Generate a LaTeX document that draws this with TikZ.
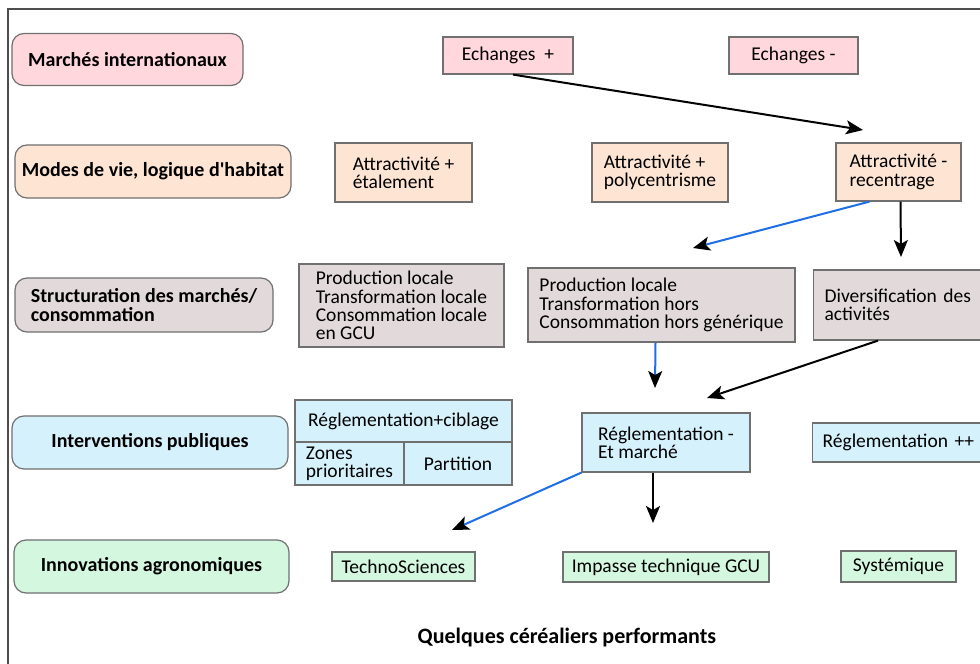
\documentclass[tikz,border=0pt]{standalone}
\usepackage{fontspec}
\setmainfont{Carlito}[Ligatures=TeXOff]
\usetikzlibrary{arrows.meta}
\definecolor{rosebox}{RGB}{255,215,220}
\definecolor{peachbox}{RGB}{253,228,211}
\definecolor{greybox}{RGB}{226,217,219}
\definecolor{bluebox}{RGB}{213,241,251}
\definecolor{greenbox}{RGB}{212,247,224}
\definecolor{edgegrey}{RGB}{112,112,112}
\definecolor{linkblue}{RGB}{30,110,230}
\begin{document}
\begin{tikzpicture}[x=1pt,y=-1pt,
    levelbox/.style={draw=edgegrey,line width=1.2pt,rounded corners=12pt,inner sep=0pt,
      font=\fontsize{20}{19}\selectfont\bfseries},
    statebox/.style={draw=edgegrey,line width=1.2pt,inner sep=0pt,align=left,
      font=\fontsize{19.5}{18.3}\selectfont},
    tip/.style={-{Stealth[length=17pt,width=14pt,inset=4pt,black]}},
    link/.style={tip,line width=2pt,black},
    bluelink/.style={tip,line width=2pt,linkblue}]
  \useasboundingbox (0,0) rectangle (980,664);
  \fill[white] (0,0) rectangle (980,664);
  \draw[edgegrey!70!black,line width=1.3pt] (8,664) -- (8,9) -- (980,9);
  % levels
  \node[levelbox,fill=rosebox,minimum width=231pt,minimum height=52pt] (m0) at (127.5,59.5) {Marchés internationaux};
  \node[levelbox,fill=peachbox,minimum width=276pt,minimum height=53pt] (m1) at (153,171.5) {Modes de vie, logique d'habitat};
  \node[levelbox,fill=greybox,minimum width=258pt,minimum height=54pt,align=left] (m2) at (144,305) {Structuration des marchés/\\consommation};
  \node[levelbox,fill=bluebox,minimum width=276pt,minimum height=53pt] (m3) at (150,442.5) {Interventions publiques};
  \node[levelbox,fill=greenbox,minimum width=275pt,minimum height=53pt] (m4) at (151.5,566.5) {Innovations agronomiques};
  % marches internationaux
  \node[statebox,fill=rosebox,minimum width=130pt,minimum height=37pt] (ech1) at (508,55.5) {Echanges\ \ +};
  \node[statebox,fill=rosebox,minimum width=129pt,minimum height=37pt] (ech2) at (793.5,55.5) {Echanges -};
  % modes de vie
  \node[statebox,fill=peachbox,minimum width=137pt,minimum height=59pt] (att1) at (403.5,172.5) {Attractivité +\\étalement};
  \node[statebox,fill=peachbox,minimum width=136pt,minimum height=59pt] (att2) at (660,172.5) {Attractivité +\\polycentrisme};
  \node[statebox,fill=peachbox,minimum width=125pt,minimum height=58pt] (att3) at (898.5,172) {Attractivité -\\recentrage};
  % structuration
  \node[statebox,fill=greybox,minimum width=205pt,minimum height=83pt] (str1) at (401.5,305.5) {Production locale\\Transformation locale\\Consommation locale\\en GCU};
  \node[statebox,fill=greybox,minimum width=267pt,minimum height=74pt] (str2) at (661.5,305) {Production locale\\Transformation hors\\Consommation hors générique};
  \node[statebox,fill=greybox,anchor=west,minimum height=70pt,inner xsep=11pt,text width=165pt] (str3) at (813,305) {Diversification des\\activités};
  % interventions
  \node[statebox,fill=bluebox,minimum width=217pt,minimum height=42pt] (int1) at (403.5,421) {Réglementation+ciblage};
  \node[statebox,fill=bluebox,minimum width=109pt,minimum height=43pt] (int2) at (349.5,463.5) {Zones\\prioritaires};
  \node[statebox,fill=bluebox,minimum width=108pt,minimum height=43pt] (int3) at (458,463.5) {Partition};
  \node[statebox,fill=bluebox,minimum width=168pt,minimum height=59pt] (int4) at (666,442.5) {Réglementation -\\Et marché};
  \node[statebox,fill=bluebox,anchor=west,minimum height=39pt,inner xsep=10pt,text width=175pt] (int5) at (812,442.5) {Réglementation ++};
  % innovations
  \node[statebox,fill=greenbox,minimum width=143pt,minimum height=29pt] (inn1) at (403.5,566.5) {TechnoSciences};
  \node[statebox,fill=greenbox,minimum width=206pt,minimum height=30pt] (inn2) at (666,567) {Impasse technique GCU};
  \node[statebox,fill=greenbox,minimum width=115pt,minimum height=31pt] (inn3) at (898.5,566.5) {Systémique};
  \node[font=\fontsize{22}{24}\selectfont\bfseries] (cap) at (567,638) {Quelques céréaliers performants};
  % free ends
  \coordinate (e1) at (863,130);
  \coordinate (e2) at (693,248);
  \coordinate (e3) at (901,257);
  \coordinate (e4) at (655,388);
  \coordinate (e5) at (707,398);
  \coordinate (e6) at (452,530);
  \coordinate (e7) at (653,523);
  \draw[link] ([xshift=5pt]ech1.south) -- (e1);
  \draw[bluelink] ([xshift=-29pt]att3.south) -- (e2);
  \draw[link] ([xshift=2pt]att3.south) -- (e3);
  \draw[bluelink] ([xshift=-6pt]str2.south) -- (e4);
  \draw[link] ([xshift=65pt]str3.south west) -- (e5);
  \draw[bluelink] (int4.south west) -- (e6);
  \draw[link] ([xshift=-13pt]int4.south) -- (e7);
\end{tikzpicture}
\end{document}
